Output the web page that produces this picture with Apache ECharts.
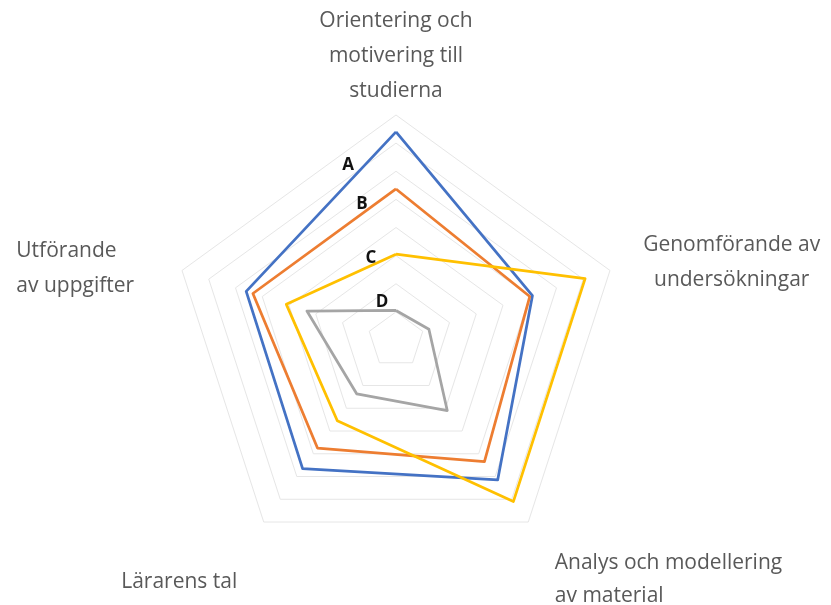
<!DOCTYPE html>
<html>
<head>
<meta charset="utf-8">
<script src="https://cdn.jsdelivr.net/npm/echarts@6/dist/echarts.min.js"></script>
<style>
html,body{margin:0;padding:0;background:#fff;}
#c{width:831px;height:605px;}
</style>
</head>
<body>
<div id="c"></div>
<script>
// Indicators listed counter-clockwise starting from the top
const indicators = [
  'Orientering och\nmotivering till\nstudierna',
  'Utförande\nav uppgifter',
  'Lärarens tal',
  'Analys och modellering\nav material',
  'Genomförande av\nundersökningar'
];
const seriesNames = ['A', 'B', 'C', 'D'];
const valuesA = [7.4, 5.6, 5.65, 6.15, 5.1];
const valuesB = [5.37, 5.35, 4.75, 5.35, 5.0];
const valuesC = [3.05, 4.1, 3.55, 7.1, 7.07];
const valuesD = [1.05, 3.33, 2.37, 3.1, 1.23];
const maxValue = 8;

const colors = ['#4472C4', '#ED7D31', '#FFC000', '#A5A5A5'];
const labelOffsets = [[-48, 33], [-34, 15], [-25, 4], [-14, -8]];
const allValues = [valuesA, valuesB, valuesC, valuesD];

const FONT = '"Open Sans", Lato, sans-serif';
const base = {color: '#595959', fontFamily: FONT, fontSize: 21};
// per-indicator name styles (layout only)
const nameStyles = ['t', 'l', 'bl', 'br', 'r'];
const rich = {
  t:  Object.assign({}, base, {lineHeight: 35, align: 'center'}),
  l:  Object.assign({}, base, {lineHeight: 35, width: 160, align: 'left'}),
  bl: Object.assign({}, base, {lineHeight: 35, padding: [110, 23, 0, 0]}),
  br: Object.assign({}, base, {lineHeight: 33, padding: [0, 0, 0, 23], align: 'left'}),
  brsp: {height: 105, lineHeight: 105, fontSize: 1},
  r:  Object.assign({}, base, {lineHeight: 35, width: 172, align: 'center', padding: [0, 0, 0, 30]}),
  rsp: {height: 12, lineHeight: 12, fontSize: 1}
};

const chart = echarts.init(document.getElementById('c'), null, {renderer: 'canvas'});
chart.setOption({
  backgroundColor: '#ffffff',
  animation: false,
  radar: {
    center: [396, 340],
    radius: 225,
    startAngle: 90,
    splitNumber: 8,
    shape: 'polygon',
    indicator: indicators.map(n => ({name: n, max: maxValue, min: 0})),
    axisName: {
      color: '#595959',
      fontFamily: FONT,
      fontSize: 21,
      formatter: function (name) {
        const i = indicators.indexOf(name);
        const s = nameStyles[i];
        let out = name.split('\n').map(line => '{' + s + '|' + line + '}').join('\n');
        if (s === 'br') out = '{brsp| }\n' + out;
        if (s === 'r') out = out + '\n{rsp| }';
        return out;
      },
      rich: rich
    },
    nameGap: 6,
    axisLine: {show: false},
    axisTick: {show: false},
    axisLabel: {show: false},
    splitArea: {show: false},
    splitLine: {lineStyle: {color: '#E6E6E6', width: 1}}
  },
  series: [{
    type: 'radar',
    data: allValues.map((vals, i) => ({
      name: seriesNames[i],
      value: vals,
      symbol: 'circle',
      symbolSize: 0,
      lineStyle: {color: colors[i], width: 2.75},
      itemStyle: {color: colors[i]},
      label: {
        show: true,
        position: 'inside',
        offset: labelOffsets[i],
        color: '#111111',
        fontWeight: 'bold',
        fontSize: 17,
        fontFamily: FONT,
        formatter: p => (p.dimensionIndex === 0 ? seriesNames[i] : '')
      }
    }))
  }]
});
</script>
</body>
</html>
